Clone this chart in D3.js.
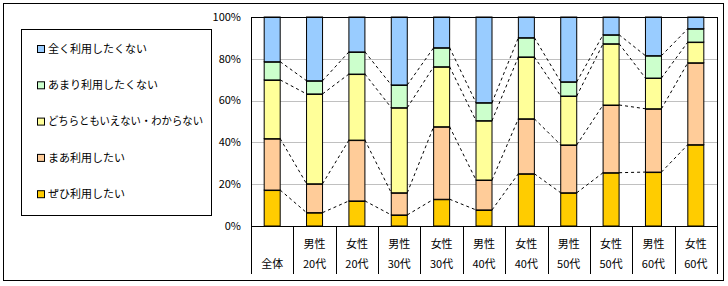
<!DOCTYPE html>
<html>
<head>
<meta charset="utf-8">
<script src="https://cdn.jsdelivr.net/npm/d3@7"></script>
<style>
  body { margin: 0; background: #fff; }
  svg text { font-family: "Noto Sans CJK JP", "Noto Sans", sans-serif; font-size: 11px; fill: #000; }
</style>
</head>
<body>
<div id="chart"></div>
<script>
// categories: gender (line 1) / age (line 2)
const genders = ["", "男性", "女性", "男性", "女性", "男性", "女性", "男性", "女性", "男性", "女性"];
const ages = ["全体", "20代", "20代", "30代", "30代", "40代", "40代", "50代", "50代", "60代", "60代"];

// series, bottom to top (percent)
const zehi = [17.2, 6.4, 12.0, 5.3, 12.8, 7.7, 25.0, 15.9, 25.5, 25.8, 38.9];
const maa = [24.6, 13.8, 29.1, 10.6, 34.7, 14.3, 26.3, 22.9, 32.4, 30.3, 39.2];
const dochira = [28.1, 43.0, 31.6, 40.7, 28.7, 28.4, 29.6, 23.4, 29.3, 14.7, 9.9];
const amari = [8.7, 6.3, 10.6, 10.9, 9.1, 8.6, 9.2, 6.8, 4.3, 10.7, 6.4];
const mattaku = [21.4, 30.5, 16.7, 32.5, 14.7, 41.0, 9.9, 31.0, 8.5, 18.5, 5.6];

const seriesNames = ["ぜひ利用したい", "まあ利用したい", "どちらともいえない・わからない", "あまり利用したくない", "全く利用したくない"];
const seriesColors = ["#FFCC00", "#FFCC99", "#FFFF99", "#CCFFCC", "#99CCFF"];
const yTicks = [0, 20, 40, 60, 80, 100];

const width = 728;
const height = 286;
const plot = { left: 251, right: 717, top: 17, bottom: 226 };
const barW = 16;

const svg = d3
  .select("#chart")
  .append("svg")
  .attr("width", width)
  .attr("height", height);

// outer frame
svg
  .append("rect")
  .attr("x", 3.5)
  .attr("y", 3.5)
  .attr("width", 720)
  .attr("height", 277)
  .attr("fill", "#fff")
  .attr("stroke", "#000");

const idx = d3.range(ages.length);
const x = d3.scaleBand().domain(idx).range([plot.left, plot.right]);
const y = d3.scaleLinear().domain([0, 100]).range([plot.bottom, plot.top]);

const rows = idx.map(i => ({
  zehi: zehi[i], maa: maa[i], dochira: dochira[i], amari: amari[i], mattaku: mattaku[i]
}));
const keys = ["zehi", "maa", "dochira", "amari", "mattaku"];
const stacked = d3.stack().keys(keys)(rows);

const barX = i => x(i) + (x.bandwidth() - barW) / 2;

// gridlines
svg
  .append("g")
  .selectAll("line")
  .data(yTicks.filter(t => t > 0 && t < 100))
  .join("line")
  .attr("x1", plot.left)
  .attr("x2", plot.right)
  .attr("y1", d => Math.round(y(d)) + 0.5)
  .attr("y2", d => Math.round(y(d)) + 0.5)
  .attr("stroke", "#C0C0C0");

// series lines between bars (dashed)
const seriesLines = [];
stacked.slice(0, 4).forEach(s => {
  for (let i = 0; i < idx.length - 1; i++) {
    seriesLines.push({ x1: barX(i) + barW, y1: y(s[i][1]), x2: barX(i + 1), y2: y(s[i + 1][1]) });
  }
});
svg
  .append("g")
  .selectAll("line")
  .data(seriesLines)
  .join("line")
  .attr("x1", d => d.x1)
  .attr("y1", d => d.y1)
  .attr("x2", d => d.x2)
  .attr("y2", d => d.y2)
  .attr("stroke", "#000")
  .attr("stroke-dasharray", "3,3");

// bars
const layers = svg
  .append("g")
  .selectAll("g")
  .data(stacked)
  .join("g")
  .attr("fill", (d, k) => seriesColors[k]);

layers
  .selectAll("rect")
  .data(d => d)
  .join("rect")
  .attr("x", (d, i) => barX(i))
  .attr("y", d => y(d[1]))
  .attr("width", barW)
  .attr("height", d => y(d[0]) - y(d[1]))
  .attr("stroke", "#000")
  .attr("stroke-width", 1);

// thicker boundaries between segments
layers
  .filter((d, k) => k < 4)
  .selectAll("line")
  .data(d => d)
  .join("line")
  .attr("x1", (d, i) => barX(i))
  .attr("x2", (d, i) => barX(i) + barW)
  .attr("y1", d => y(d[1]))
  .attr("y2", d => y(d[1]))
  .attr("stroke", "#000")
  .attr("stroke-width", 2);

// plot border
svg
  .append("rect")
  .attr("x", plot.left + 0.5)
  .attr("y", plot.top + 0.5)
  .attr("width", plot.right - plot.left)
  .attr("height", plot.bottom - plot.top)
  .attr("fill", "none")
  .attr("stroke", "#000");

// category separators under the axis
svg
  .append("g")
  .selectAll("line")
  .data(d3.range(ages.length + 1))
  .join("line")
  .attr("x1", i => Math.round(plot.left + i * x.step()) + 0.5)
  .attr("x2", i => Math.round(plot.left + i * x.step()) + 0.5)
  .attr("y1", plot.bottom)
  .attr("y2", 274)
  .attr("stroke", "#000");

// category labels
const labels = svg.append("g").attr("text-anchor", "middle");
labels
  .selectAll("text.g")
  .data(genders)
  .join("text")
  .attr("class", "g")
  .attr("x", (d, i) => x(i) + x.bandwidth() / 2)
  .attr("y", 248)
  .text(d => d);
labels
  .selectAll("text.a")
  .data(ages)
  .join("text")
  .attr("class", "a")
  .attr("x", (d, i) => x(i) + x.bandwidth() / 2)
  .attr("y", 268)
  .text(d => d);

// y axis labels
svg
  .append("g")
  .attr("text-anchor", "end")
  .selectAll("text")
  .data(yTicks)
  .join("text")
  .attr("x", 241)
  .attr("y", d => y(d))
  .attr("dy", "0.35em")
  .text(d => d + "%");

// legend
const legend = svg.append("g");
legend
  .append("rect")
  .attr("x", 21.5)
  .attr("y", 29.5)
  .attr("width", 190)
  .attr("height", 186)
  .attr("fill", "#fff")
  .attr("stroke", "#000");

const legendItems = legend
  .selectAll("g")
  .data(d3.range(5).reverse())
  .join("g")
  .attr("transform", (k, j) => `translate(0, ${49 + j * 36.3})`);
legendItems
  .append("rect")
  .attr("x", 37.5)
  .attr("y", -3.5)
  .attr("width", 7)
  .attr("height", 7)
  .attr("fill", k => seriesColors[k])
  .attr("stroke", "#000");
legendItems
  .append("text")
  .attr("x", 48)
  .attr("dy", "0.35em")
  .text(k => seriesNames[k])
  .each(function () {
    // keep long label inside the legend box
    if (this.getComputedTextLength() > 155) {
      d3.select(this).attr("textLength", 155).attr("lengthAdjust", "spacingAndGlyphs");
    }
  });
</script>
</body>
</html>
